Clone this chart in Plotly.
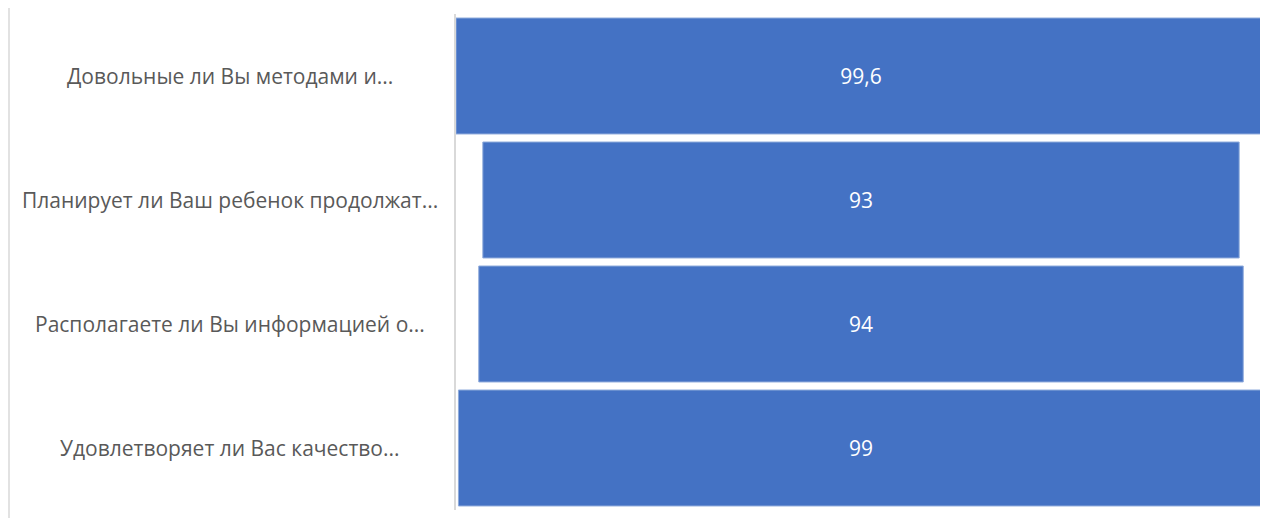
import plotly.graph_objects as go

categories = [
    "Довольные ли Вы методами и...",
    "Планирует ли Ваш ребенок продолжат...",
    "Располагаете ли Вы информацией о...",
    "Удовлетворяет ли Вас качество...",
]
values = [99.6, 93, 94, 99]

# page body has an 8px margin
W, H = 1260, 510
L, R, T, B = 448, 2, 6, 8
plot_w = W - L - R

fig = go.Figure(go.Funnel(
    y=categories,
    x=values,
    texttemplate="%{x}",
    textposition="inside",
    insidetextanchor="middle",
    textfont=dict(color="white", size=21, family="Open Sans"),
    marker=dict(color="#4472C4", line=dict(color="#8eaadb", width=1)),
    connector=dict(visible=False),
    hoverinfo="x+y",
))

annotations = []
for c in categories:
    annotations.append(dict(
        x=(222 - L) / plot_w, xref="paper", y=c, yref="y",
        text=c, showarrow=False, xanchor="center", yanchor="middle",
        font=dict(family="Open Sans", size=21, color="#595959"),
    ))

fig.update_layout(
    width=W, height=H,
    margin=dict(l=L, r=R, t=T, b=B),
    paper_bgcolor="white", plot_bgcolor="white",
    separators=", ",
    funnelgap=0.065,
    showlegend=False,
    annotations=annotations,
    shapes=[dict(type="line", xref="paper", yref="paper",
                 x0=(1 - L) / plot_w, x1=(1 - L) / plot_w, y0=-0.05, y1=1.1,
                 line=dict(color="#d9d9d9", width=1.5))],
    xaxis=dict(visible=False, range=[-49.8, 49.8], fixedrange=True),
    yaxis=dict(showticklabels=False, showline=True, linecolor="#d9d9d9",
               linewidth=2, ticks="", showgrid=False, zeroline=False),
)

fig.write_html("out.html")
